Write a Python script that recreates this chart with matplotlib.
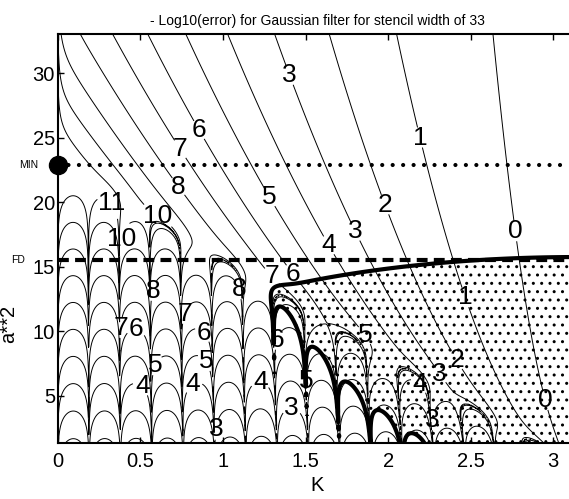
import numpy as np
import matplotlib
matplotlib.use("Agg")
import matplotlib.pyplot as plt
from math import factorial

plt.rcParams['font.family'] = ['Liberation Sans', 'DejaVu Sans']
plt.rcParams['hatch.linewidth'] = 1.0
plt.rcParams['hatch.color'] = 'black'

# ---------------- data ----------------
stencil_width = 33
a2_range = [1.33, 33.0]
K_range = [0.0, np.pi]
contour_levels = [0, 1, 2, 3, 4, 5, 6, 7, 8, 9, 10, 11]
a2_min = 22.9          # "MIN" line
a2_fd = 15.5           # "FD" line
hatch_K_min = 1.25     # hatched region starts right of this K
hatch_corner = (2.6, 2.5)   # (K above, a**2 below): hatched down to the corner
x_ticks = [0, 0.5, 1, 1.5, 2, 2.5, 3]
x_tick_labels = ['0', '0.5', '1', '1.5', '2', '2.5', '3']
y_ticks = [5, 10, 15, 20, 25, 30]
y_tick_labels = ['5', '10', '15', '20', '25', '30']

# contour label positions (K, a**2), per level
label_positions = {
    0: [(2.79, 17.8), (2.94, 4.65)],
    1: [(2.19, 25.0), (2.485, 12.7)],
    2: [(2.0, 19.9), (2.415, 7.77)],
    3: [(1.395, 29.8), (1.81, 17.8), (2.345, 7.0), (2.295, 3.1), (0.96, 2.4), (1.415, 3.5)],
    4: [(1.64, 16.65), (2.2, 6.0), (0.51, 5.7), (0.84, 5.45), (1.225, 5.83)],
    5: [(1.285, 20.4), (1.86, 9.7), (1.55, 6.1), (0.625, 7.2), (0.89, 7.6)],
    6: [(0.87, 25.7), (1.425, 14.5), (1.345, 9.3), (0.47, 9.7), (0.86, 9.6)],
    7: [(0.74, 24.1), (1.315, 14.5), (0.81, 11.2), (0.377, 10.3)],
    8: [(0.74, 21.3), (0.61, 13.05), (1.08, 13.2)],
    10: [(0.6, 18.85), (0.377, 17.2)],
    11: [(0.347, 20.1)],
}

# ---------------- error fields ----------------
N = (stencil_width - 1) // 2
K = np.linspace(K_range[0], K_range[1], 1200)
A = np.linspace(a2_range[0], a2_range[1], 500)
j = np.arange(1, N + 1)
S = np.sin(np.outer(j, K))                       # (N, nK)

# Gaussian-windowed derivative stencil
W = np.exp(-A[:, None] * (j[None, :] / N) ** 2)  # (nA, N)
coefG = 2.0 * (-1.0) ** (j + 1) / j * W
KG = coefG @ S
errG = np.abs(K[None, :] - KG)

# explicit central finite difference of the same width
cFD = np.array([2.0 * (-1) ** (jj + 1) * (factorial(N) ** 2 /
                (jj * factorial(N - jj) * factorial(N + jj))) for jj in range(1, N + 1)])
KFD = cFD @ S
errFD = np.abs(K - KFD)

F = -np.log10(np.maximum(errG, 1e-300))
F = np.clip(F, -5, 16)
D = np.log10(np.maximum(errG, 1e-300)) - np.log10(np.maximum(errFD, 1e-300))[None, :]
D[:, K < hatch_K_min] = 1.0
KK, AA = np.meshgrid(K, A)
D[(KK > hatch_corner[0]) & (AA < hatch_corner[1])] = -1.0

# ---------------- figure ----------------
W_px, H_px = 569, 499
fig = plt.figure(figsize=(W_px / 100, H_px / 100), dpi=100)
x0, x1, y_top, y_bot = 57.7, 576.7, 34.3, 443.3
ax = fig.add_axes([x0 / W_px, 1 - y_bot / H_px, (x1 - x0) / W_px, (y_bot - y_top) / H_px])

# hatched region: Gaussian better than FD
ax.contourf(K, A, D, levels=[-1e9, 0], colors='none', hatches=['..'])
ax.contour(K, A, D, levels=[0], colors='k', linewidths=3.0)

for lev in contour_levels:
    cs = ax.contour(K, A, F, levels=[lev], colors='k', linewidths=0.7)
    if lev in label_positions:
        ax.clabel(cs, manual=label_positions[lev], inline=True, fmt='%d',
                  fontsize=19, inline_spacing=3)
for t in ax.texts:
    t.set_rotation(0)

# MIN and FD lines
ax.plot(K_range, [a2_min, a2_min], color='k', lw=3.0, ls=(0, (0.01, 2.5)),
        dash_capstyle='round')
ax.plot([0], [a2_min], 'o', color='k', ms=13, clip_on=False, zorder=5)
ax.plot(K_range, [a2_fd, a2_fd], color='k', lw=3.0, ls=(0, (2.6, 1.5)),
        dash_capstyle='butt')
ax.text(-0.12, a2_min, 'MIN', ha='right', va='center', fontsize=7.5, clip_on=False)
ax.text(-0.195, a2_fd, 'FD', ha='right', va='center', fontsize=7.5, clip_on=False)

ax.set_xlim(K_range)
ax.set_ylim(a2_range)
ax.set_xticks(x_ticks)
ax.set_xticklabels(x_tick_labels)
ax.set_yticks(y_ticks)
ax.set_yticklabels(y_tick_labels)
ax.tick_params(direction='in', length=4, width=1, labelsize=14.5, top=True, right=True)
ax.tick_params(axis='x', pad=6)
ax.tick_params(axis='y', pad=2)
for sp in ax.spines.values():
    sp.set_linewidth(1.5)

ax.set_title('- Log10(error) for Gaussian filter for stencil width of 33', fontsize=10, pad=7)
ax.set_xlabel('K', fontsize=14.5, labelpad=4)
ax.set_ylabel('a**2', fontsize=14.5)
ax.yaxis.set_label_coords(-0.0755, 0.293)

fig.savefig('out.png', dpi=100)
